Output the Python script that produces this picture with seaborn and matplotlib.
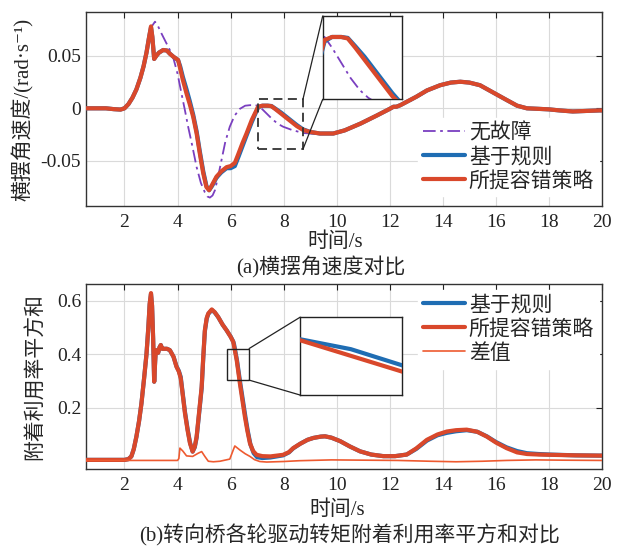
import matplotlib
matplotlib.use('Agg')
import matplotlib.pyplot as plt
import seaborn as sns
from matplotlib.patches import Rectangle, ConnectionPatch

# ---- (a) 横摆角速度 ----
t_a_red = [0.5, 1.0, 1.3, 1.6, 1.85, 2.0, 2.15, 2.3, 2.45, 2.6, 2.72, 2.83, 2.93, 3.0, 3.05, 3.12,
           3.2, 3.3, 3.46, 3.6, 3.71, 3.85, 4.02, 4.1, 4.2, 4.34, 4.46, 4.59, 4.72, 4.84, 4.97, 5.09,
           5.19, 5.3, 5.47, 5.65, 5.85, 6.0, 6.16, 6.3, 6.45, 6.6, 6.8, 7.04, 7.2, 7.4, 7.54, 7.7,
           7.9, 8.1, 8.3, 8.5, 8.73, 9.0, 9.37, 9.87, 10.3, 10.9, 11.5, 12.0, 12.14, 12.25, 12.4,
           12.7, 13.0, 13.4, 13.9, 14.3, 14.66, 15.0, 15.4, 15.9, 16.4, 16.8, 17.17, 17.6, 18.0,
           18.4, 18.9, 19.4, 19.9, 20.0]
v_a_red = [0.0, 0.0, 0.0, -0.0008, -0.0012, 0.0, 0.004, 0.010, 0.018, 0.029, 0.040, 0.053, 0.068,
           0.078, 0.068, 0.047, 0.050, 0.053, 0.0555, 0.055, 0.052, 0.049, 0.046, 0.038, 0.027,
           0.014, 0.004, -0.008, -0.024, -0.043, -0.062, -0.075, -0.078, -0.073, -0.065, -0.060,
           -0.056, -0.055, -0.052, -0.043, -0.033, -0.024, -0.011, 0.0015, 0.0025, 0.0025, 0.002,
           -0.001, -0.005, -0.009, -0.013, -0.017, -0.0205, -0.0225, -0.024, -0.024, -0.021,
           -0.0145, -0.007, -0.0005, 0.0015, 0.0015, 0.003, 0.007, 0.011, 0.017, 0.022, 0.0245,
           0.0253, 0.0245, 0.022, 0.015, 0.008, 0.0025, 0.0, -0.0005, -0.001, -0.002, -0.003,
           -0.0025, -0.002, -0.002]
v_a_blue = [0.0, 0.0, 0.0, -0.0008, -0.0012, 0.0, 0.004, 0.010, 0.018, 0.029, 0.040, 0.053, 0.068,
            0.077, 0.068, 0.047, 0.050, 0.053, 0.0555, 0.055, 0.052, 0.049, 0.046, 0.040, 0.030,
            0.018, 0.007, -0.006, -0.022, -0.041, -0.060, -0.074, -0.078, -0.074, -0.066, -0.061,
            -0.057, -0.057, -0.055, -0.046, -0.036, -0.026, -0.013, 0.001, 0.0025, 0.0025, 0.0022,
            -0.0005, -0.004, -0.008, -0.012, -0.016, -0.020, -0.0225, -0.024, -0.024, -0.021,
            -0.0145, -0.007, -0.0005, 0.0015, 0.0015, 0.003, 0.007, 0.011, 0.017, 0.022, 0.0245,
            0.0253, 0.0245, 0.022, 0.015, 0.008, 0.0025, 0.0, -0.0005, -0.001, -0.002, -0.003,
            -0.0025, -0.002, -0.002]
t_a_nf = [0.5, 1.0, 1.6, 1.85, 2.0, 2.15, 2.3, 2.45, 2.6, 2.72, 2.83, 2.93, 3.03, 3.15, 3.25, 3.4,
          3.58, 3.7, 3.83, 4.0, 4.15, 4.28, 4.4, 4.55, 4.72, 4.88, 5.03, 5.13, 5.22, 5.32, 5.41,
          5.53, 5.66, 5.8, 5.97, 6.15, 6.35, 6.55, 6.73, 6.9, 7.04, 7.2, 7.36, 7.6, 7.8, 7.98, 8.3,
          8.73, 9.0, 9.37, 9.87, 10.3, 10.9, 11.5, 12.0, 12.2, 12.4, 12.7, 13.0, 13.4, 13.9, 14.3,
          14.66, 15.0, 15.4, 15.9, 16.4, 16.8, 17.17, 17.6, 18.0, 18.4, 18.9, 19.4, 19.9, 20.0]
v_a_nf = [0.0, 0.0, -0.0008, -0.0012, 0.0, 0.004, 0.010, 0.018, 0.029, 0.041, 0.055, 0.068, 0.078,
          0.0825, 0.079, 0.071, 0.062, 0.056, 0.049, 0.033, 0.014, -0.002, -0.0175, -0.035,
          -0.056, -0.071, -0.080, -0.084, -0.085, -0.083, -0.078, -0.065, -0.049, -0.032,
          -0.0175, -0.007, -0.0005, 0.0025, 0.003, 0.003, 0.0025, -0.001, -0.005, -0.011, -0.015,
          -0.0175, -0.0205, -0.0235, -0.024, -0.0245, -0.024, -0.021, -0.015, -0.0075, -0.001,
          0.001, 0.003, 0.006, 0.010, 0.016, 0.0215, 0.024, 0.025, 0.0245, 0.022, 0.015, 0.008,
          0.0025, 0.0, -0.0005, -0.0012, -0.002, -0.003, -0.002, -0.0015, -0.0015]

# ---- (b) 附着利用率平方和 ----
t_b_red = [0.5, 1.0, 1.5, 2.0, 2.15, 2.26, 2.35, 2.45, 2.55, 2.64, 2.74, 2.83, 2.9, 2.95, 3.0, 3.04,
           3.08, 3.12, 3.15, 3.18, 3.22, 3.27, 3.32, 3.37, 3.42, 3.5, 3.6, 3.71, 3.85, 3.96, 4.05,
           4.12, 4.2, 4.28, 4.38, 4.47, 4.57, 4.65, 4.72, 4.8, 4.91, 4.97, 5.03, 5.1, 5.16, 5.29,
           5.4, 5.53, 5.7, 5.85, 6.0, 6.1, 6.23, 6.35, 6.45, 6.54, 6.63, 6.73, 6.85, 6.98, 7.2, 7.5,
           7.98, 8.2, 8.36, 8.62, 8.9, 9.12, 9.4, 9.56, 9.8, 10.13, 10.5, 10.88, 11.3, 11.76, 12.2,
           12.64, 13.0, 13.4, 13.8, 14.15, 14.5, 14.9, 15.3, 15.66, 16.0, 16.4, 16.8, 17.17, 17.6,
           18.04, 19.0, 19.9, 20.0]
v_b_red = [0.005, 0.005, 0.005, 0.005, 0.008, 0.018, 0.045, 0.092, 0.15, 0.216, 0.31, 0.40, 0.50,
           0.589, 0.628, 0.58, 0.46, 0.297, 0.36, 0.415, 0.41, 0.405, 0.425, 0.434, 0.42, 0.42,
           0.42, 0.415, 0.39, 0.353, 0.335, 0.31, 0.245, 0.179, 0.115, 0.067, 0.036, 0.055, 0.092,
           0.17, 0.278, 0.39, 0.489, 0.535, 0.552, 0.567, 0.557, 0.539, 0.51, 0.489, 0.465, 0.446,
           0.378, 0.291, 0.225, 0.166, 0.115, 0.067, 0.038, 0.024, 0.019, 0.018, 0.024, 0.034,
           0.049, 0.065, 0.08, 0.087, 0.092, 0.093, 0.088, 0.075, 0.055, 0.037, 0.025, 0.019,
           0.019, 0.025, 0.048, 0.08, 0.1, 0.111, 0.116, 0.118, 0.11, 0.092, 0.07, 0.049, 0.033,
           0.027, 0.025, 0.024, 0.022, 0.021, 0.021]
t_b_blue = [0.5, 1.0, 1.5, 2.0, 2.15, 2.26, 2.35, 2.45, 2.55, 2.64, 2.74, 2.83, 2.9, 2.95, 3.0, 3.04,
            3.08, 3.12, 3.15, 3.18, 3.22, 3.27, 3.32, 3.37, 3.42, 3.5, 3.6, 3.71, 3.85, 3.96, 4.05,
            4.12, 4.2, 4.28, 4.38, 4.47, 4.57, 4.65, 4.72, 4.8, 4.91, 4.97, 5.03, 5.1, 5.16, 5.29,
            5.4, 5.53, 5.7, 5.85, 6.0, 6.1, 6.13, 6.24, 6.36, 6.46, 6.56, 6.65, 6.75, 6.87, 7.0,
            7.2, 7.5, 7.98, 8.2, 8.36, 8.62, 8.9, 9.12, 9.4, 9.56, 9.8, 10.13, 10.5, 10.88, 11.3,
            11.76, 12.2, 12.64, 13.0, 13.4, 13.8, 14.15, 14.5, 14.9, 15.3, 15.66, 16.0, 16.4, 16.8,
            17.17, 17.6, 18.04, 19.0, 19.9, 20.0]
v_b_blue = [0.005, 0.005, 0.005, 0.005, 0.008, 0.018, 0.045, 0.092, 0.15, 0.216, 0.31, 0.40, 0.50,
            0.585, 0.625, 0.58, 0.46, 0.297, 0.36, 0.415, 0.41, 0.405, 0.425, 0.434, 0.42, 0.42,
            0.42, 0.415, 0.39, 0.355, 0.337, 0.315, 0.25, 0.185, 0.12, 0.07, 0.036, 0.052, 0.088,
            0.165, 0.272, 0.385, 0.485, 0.532, 0.55, 0.565, 0.556, 0.539, 0.51, 0.489, 0.466,
            0.447, 0.437, 0.378, 0.295, 0.23, 0.165, 0.112, 0.062, 0.03, 0.015, 0.012, 0.014,
            0.022, 0.033, 0.048, 0.065, 0.08, 0.087, 0.092, 0.093, 0.088, 0.075, 0.055, 0.037,
            0.025, 0.019, 0.019, 0.025, 0.046, 0.077, 0.097, 0.106, 0.112, 0.116, 0.11, 0.093,
            0.072, 0.052, 0.038, 0.03, 0.027, 0.025, 0.022, 0.021, 0.021]
t_b_diff = [0.5, 2.0, 4.0, 4.05, 4.09, 4.2, 4.34, 4.57, 4.78, 4.91, 5.03, 5.16, 5.35, 5.6, 5.97, 6.1,
            6.16, 6.35, 6.55, 6.73, 6.9, 7.1, 7.36, 8.0, 8.6, 9.8, 11.0, 12.3, 13.5, 14.5, 15.5,
            16.4, 17.5, 18.5, 20.0]
v_b_diff = [0.003, 0.003, 0.003, 0.01, 0.049, 0.038, 0.02, 0.018, 0.03, 0.036, 0.018, 0.0, -0.002,
            0.0, 0.008, 0.042, 0.057, 0.042, 0.028, 0.018, 0.006, -0.001, -0.003, -0.001, 0.002,
            0.005, 0.004, 0.003, 0.0, -0.002, 0.0, 0.003, 0.005, 0.004, 0.003]

x_ticks = [2, 4, 6, 8, 10, 12, 14, 16, 18, 20]

BLUE = '#1f6db3'
RED = '#d9482b'
PURPLE = '#7a3fc0'
DIFF = '#ee5a30'
DASHDOT = (0, (7, 2.5, 1.5, 2.5))

sns.set_style('white')
plt.rcParams['font.family'] = ['Liberation Serif', 'Noto Sans CJK SC', 'DejaVu Sans']
plt.rcParams['axes.unicode_minus'] = False

W, H = 623, 547
fig = plt.figure(figsize=(W / 100, H / 100), dpi=100)


def px_axes(x0, y0, x1, y1):
    return fig.add_axes([x0 / W, 1 - y1 / H, (x1 - x0) / W, (y1 - y0) / H])


def style_main(ax):
    ax.set_xlim(0.55, 20)
    ax.set_xticks(x_ticks)
    ax.grid(True, color='#dadada', lw=0.8)
    ax.tick_params(direction='in', top=True, right=True, length=4, width=0.8,
                   labelsize=14, colors='#222222')
    ax.tick_params(axis='x', pad=6)
    for s in ax.spines.values():
        s.set_color('#333333')
        s.set_linewidth(1.0)


def style_inset(ax):
    ax.set_xticks([])
    ax.set_yticks([])
    ax.set_facecolor('white')
    for s in ax.spines.values():
        s.set_color('#222222')
        s.set_linewidth(1.0)


def draw_a(ax, legend=True):
    sns.lineplot(x=t_a_nf, y=v_a_nf, ax=ax, color=PURPLE, lw=1.3, linestyle=DASHDOT,
                 label='无故障' if legend else None, zorder=2)
    sns.lineplot(x=t_a_red, y=v_a_blue, ax=ax, color=BLUE, lw=3.0,
                 label='基于规则' if legend else None, zorder=3)
    sns.lineplot(x=t_a_red, y=v_a_red, ax=ax, color=RED, lw=3.0,
                 label='所提容错策略' if legend else None, zorder=4)


def draw_b(ax, legend=True):
    sns.lineplot(x=t_b_blue, y=v_b_blue, ax=ax, color=BLUE, lw=3.0,
                 label='基于规则' if legend else None, zorder=3)
    sns.lineplot(x=t_b_red, y=v_b_red, ax=ax, color=RED, lw=3.0,
                 label='所提容错策略' if legend else None, zorder=4)
    sns.lineplot(x=t_b_diff, y=v_b_diff, ax=ax, color=DIFF, lw=1.2,
                 label='差值' if legend else None, zorder=5)


def connect(ax, ax_in, p_top, p_bot):
    for p, q in ((p_top, (0, 1)), (p_bot, (0, 0))):
        con = ConnectionPatch(xyA=p, coordsA='data', axesA=ax, xyB=q,
                              coordsB='axes fraction', axesB=ax_in, color='#222222', lw=0.9)
        fig.add_artist(con)


leg_kw = dict(loc='upper left', frameon=True, facecolor='white', edgecolor='white', framealpha=1,
              fontsize=15, handlelength=2.0, handletextpad=0.2, labelspacing=0.2,
              borderpad=0.25, borderaxespad=0)

# ---- top panel ----
ax1 = px_axes(86, 12, 602, 206)
draw_a(ax1)
style_main(ax1)
ax1.set_ylim(-0.093, 0.0917)
ax1.set_yticks([-0.05, 0, 0.05], labels=['-0.05', '0', '0.05'])
ax1.set_ylabel('横摆角速度/(rad·s⁻¹)', fontsize=15, labelpad=5)
ax1.set_xlabel('时间/s', fontsize=15)
ax1.xaxis.set_label_coords(0.483, -0.135)
ax1.legend(bbox_to_anchor=(0.643, 0.455), **leg_kw)
ax1.add_patch(Rectangle((7.03, -0.0388), 1.70, 0.0477, fill=False, ec='#333333', lw=1.3,
                        ls=(0, (5, 3)), zorder=6))

ax1_in = px_axes(322.7, 16, 401.7, 99.3)
draw_a(ax1_in, legend=False)
ax1_in.set_xlim(7.0, 8.7)
ax1_in.set_ylim(-0.018, 0.0094)
style_inset(ax1_in)
connect(ax1, ax1_in, (8.73, 0.0089), (8.73, -0.0388))

fig.text(321 / W, 1 - 267 / H, '(a)横摆角速度对比', ha='center', va='center', fontsize=15)

# ---- bottom panel ----
ax2 = px_axes(86, 284, 602, 469)
draw_b(ax2)
style_main(ax2)
ax2.set_ylim(-0.029, 0.662)
ax2.set_yticks([0.2, 0.4, 0.6], labels=['0.2', '0.4', '0.6'])
ax2.set_ylabel('附着利用率平方和', fontsize=15, labelpad=8)
ax2.set_xlabel('时间/s', fontsize=15)
ax2.xaxis.set_label_coords(0.486, -0.172)
ax2.legend(bbox_to_anchor=(0.643, 0.965), **leg_kw)
ax2.add_patch(Rectangle((5.87, 0.303), 0.83, 0.118, fill=False, ec='#222222', lw=1.0, zorder=6))

ax2_in = px_axes(300, 317.3, 401.7, 395)
draw_b(ax2_in, legend=False)
ax2_in.set_xlim(6.10, 6.16)
ax2_in.set_ylim(0.391, 0.469)
style_inset(ax2_in)
connect(ax2, ax2_in, (6.70, 0.421), (6.70, 0.303))

fig.text(350 / W, 1 - 535 / H, '(b)转向桥各轮驱动转矩附着利用率平方和对比', ha='center',
         va='center', fontsize=15)

fig.savefig('out.png', dpi=100)
